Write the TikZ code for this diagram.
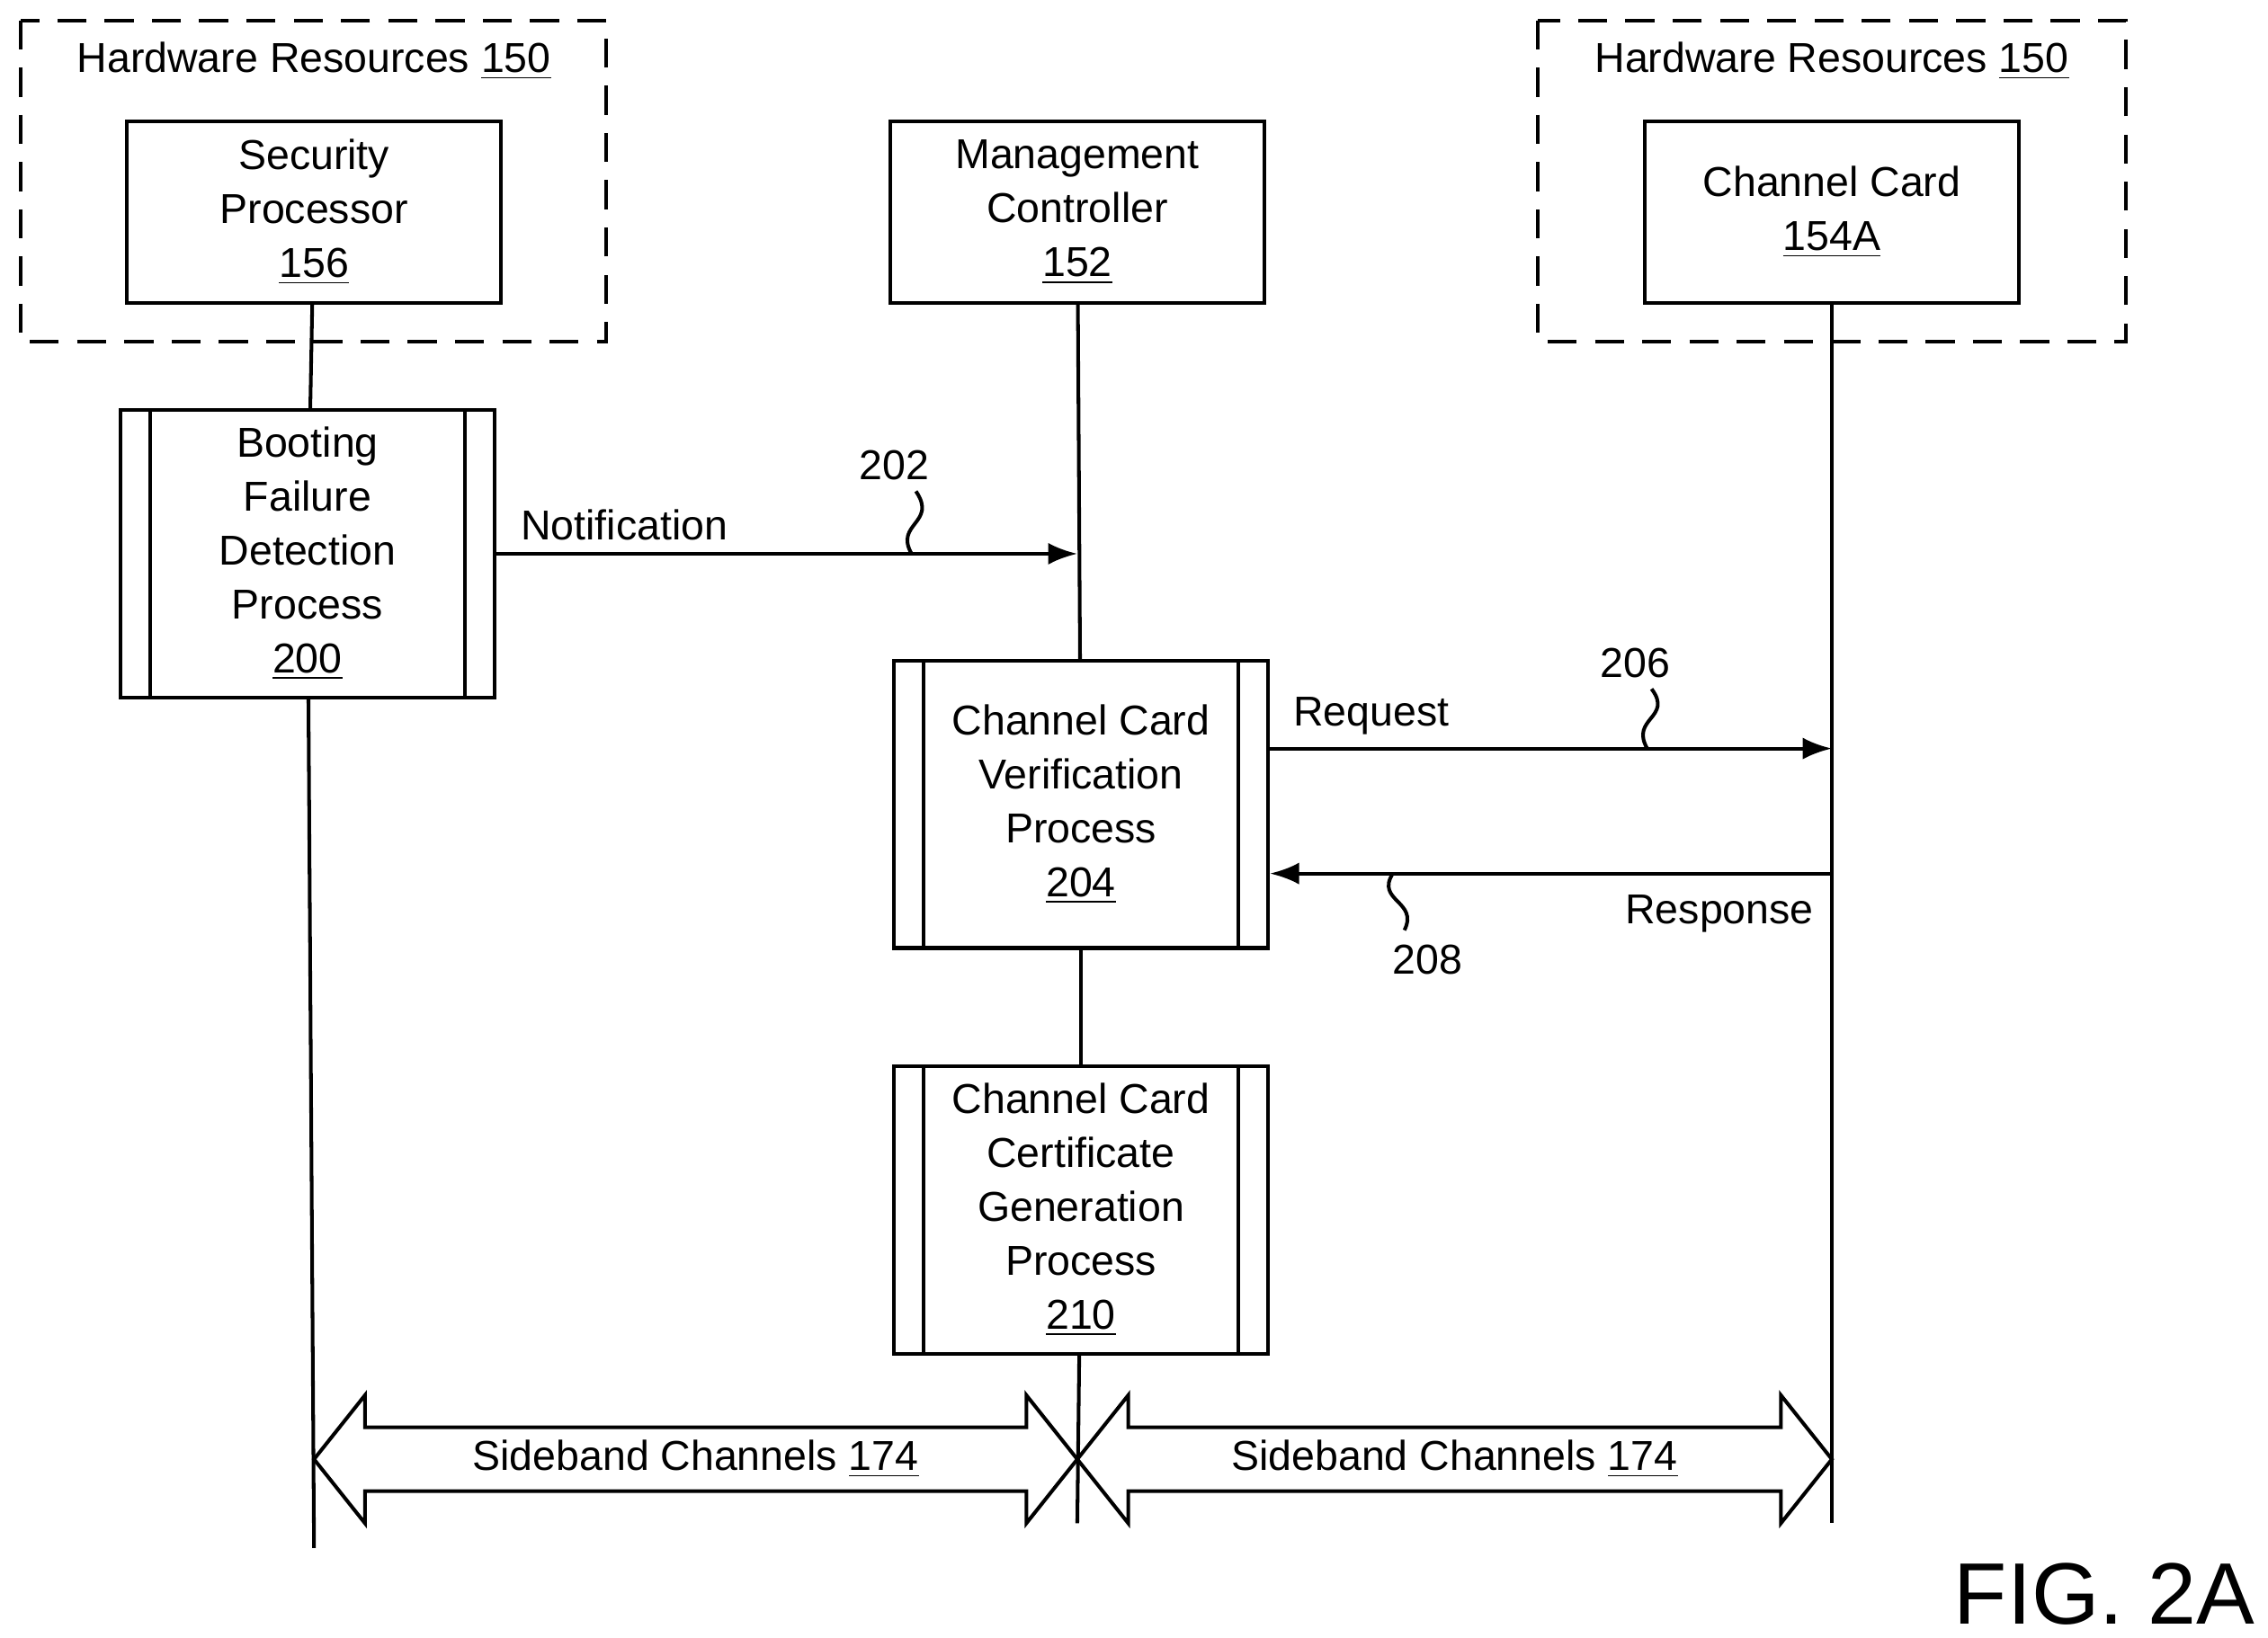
\documentclass[tikz,border=0pt]{standalone}
\usepackage{fontspec}
\usetikzlibrary{arrows.meta}
\setmainfont{Liberation Sans}
\begin{document}
\begin{tikzpicture}[x=0.4pt,y=-0.4pt,line width=1pt]
			\tikzstyle{boite}=[draw,minimum width=103pt,minimum height=50pt,align=center,inner sep=0pt,font=\fontsize{11.5}{14.8}\selectfont]
			\tikzstyle{processus}=[draw,minimum width=103pt,minimum height=79pt,align=center,inner sep=0pt,font=\fontsize{11.5}{14.8}\selectfont]
			\tikzstyle{groupe}=[draw,dash pattern=on 8pt off 5pt]
			\tikzstyle{fleche}=[-{Latex[length=8pt,width=6pt]}]
			\tikzstyle{vie}=[]
			\tikzstyle{etiquette}=[font=\fontsize{11.5}{14.8}\selectfont]
			\tikzstyle{onde}=[]
			\useasboundingbox (0,0) rectangle (1560,1127);
			% groupes
			\draw[groupe] (14,14) rectangle (417,235);
			\draw[groupe] (1058,14) rectangle (1462,235);
			\node[etiquette] (hrA) at (216,42) {Hardware Resources \underline{150}};
			\node[etiquette] (hrB) at (1260,42) {Hardware Resources \underline{150}};
			% acteurs
			\node[boite] (SP) at (216,146) {Security\\Processor\\\underline{156}};
			\node[boite] (MC) at (741,146) {Management\\Controller\\\underline{152}};
			\node[boite] (CC) at (1260,146) {Channel Card\\\underline{154A}};
			\coordinate (SPfin) at (216,1065); \coordinate (MCfin) at (741,1048); \coordinate (CCfin) at (1260,1048);
			% processus
			\node[processus] (BF) at (211.5,381) {Booting\\Failure\\Detection\\Process\\\underline{200}};
			\node[processus] (CV) at (743.5,553.5) {Channel Card\\Verification\\Process\\\underline{204}};
			\node[processus] (CG) at (743.5,832.5) {Channel Card\\Certificate\\Generation\\Process\\\underline{210}};
			\foreach \n in {BF,CV,CG} {
				\draw ([xshift=8.8pt]\n.north west) -- ([xshift=8.8pt]\n.south west);
				\draw ([xshift=-8.8pt]\n.north east) -- ([xshift=-8.8pt]\n.south east);
			}
			% lignes de vie
			\draw[vie] (SP) -- (BF); \draw[vie] (BF) -- (SPfin);
			\draw[vie] (MC) -- (CV); \draw[vie] (CV) -- (CG); \draw[vie] (CG) -- (MCfin);
			\draw[vie] (CC) -- (CCfin);
			% messages
			\coordinate (MCnot) at (741,381); \coordinate (CCreq) at (1260,515); \coordinate (CCrep) at (1260,601);
			\draw[fleche] (BF.east |- MCnot) -- (MCnot) node[etiquette,pos=0.22,above] {Notification};
			\draw[fleche] (CV.east |- CCreq) -- (CCreq) node[etiquette,pos=0.18,above] {Request};
			\draw[fleche] (CCrep) -- (CV.east |- CCrep) node[etiquette,pos=0.2,below=2pt] {Response};
			\node[etiquette] (n202) at (615,320) {202};
			\node[etiquette] (n206) at (1125,456) {206};
			\node[etiquette] (n208) at (982,660) {208};
			\draw[onde] (627,381) .. controls (615,360) and (645,360) .. (630,338);
			\draw[onde] (1133,515) .. controls (1121,494) and (1151,494) .. (1136,474);
			\draw[onde] (958,601) .. controls (946,620) and (976,620) .. (966,640);
			% canaux
			\foreach \a/\b in {216/741,741/1260} {
				\draw (\a,1004) -- (\a+35,960) -- (\a+35,982) -- (\b-35,982) -- (\b-35,960) -- (\b,1004)
					-- (\b-35,1048) -- (\b-35,1026) -- (\a+35,1026) -- (\a+35,1048) -- cycle;
			}
			\node[etiquette] (sbA) at (478.5,1004) {Sideband Channels \underline{174}};
			\node[etiquette] (sbB) at (1000.5,1004) {Sideband Channels \underline{174}};
			\node[font=\fontsize{24}{28}\selectfont,anchor=east,inner sep=0pt] (fig) at (1552,1097) {FIG. 2A};
		\end{tikzpicture}
\end{document}
